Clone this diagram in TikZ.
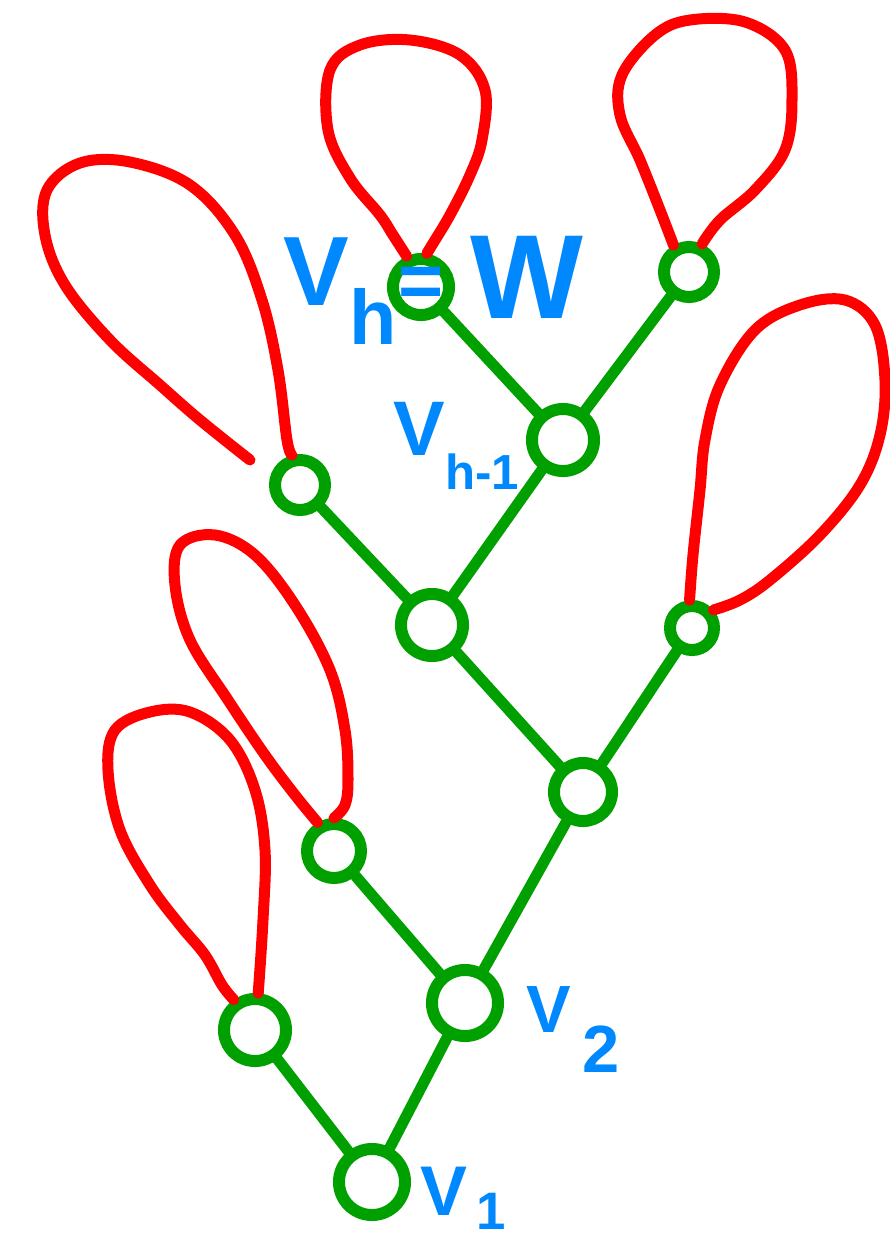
\documentclass[tikz,border=0pt]{standalone}
\usepackage{fontspec}
\setmainfont{Liberation Sans}
\usetikzlibrary{positioning}
\definecolor{treegreen}{RGB}{0,160,0}
\definecolor{loopred}{RGB}{255,0,0}
\definecolor{labblue}{RGB}{0,136,255}
\newcommand{\vsub}[3]{#1\raisebox{#3}{#2}}

\begin{document}
\begin{tikzpicture}[
        x=0.01cm, y=-0.01cm,
        vert/.style={circle, draw=treegreen, line width=0.12cm, inner sep=0pt, minimum size=#1},
        vert/.default=0.6cm,
        edge/.style={draw=treegreen, line width=0.11cm, line cap=round},
        selfloop/.style={draw=loopred, line width=0.11cm, line cap=round, line join=round},
        lab/.style={text=labblue, font=\bfseries, inner sep=0pt}
    ]
        \useasboundingbox (0,0) rectangle (890,1250);

        % Vertices
        \node[vert=0.66cm] (v1) at (372,1182) {};
        \node[vert=0.66cm] (v2) at (465,1003) {};
        \node[vert=0.62cm] (leafA) at (255,1030) {};
        \node[vert=0.54cm] (leafB) at (334,851) {};
        \node[vert=0.58cm] (midR) at (583,792) {};
        \node[vert=0.62cm] (midL) at (432,625) {};
        \node[vert=0.44cm] (leafD) at (692,628) {};
        \node[vert=0.50cm] (leafE) at (300,485) {};
        \node[vert=0.62cm] (vhm) at (563,440) {};
        \node[vert=0.56cm] (vh) at (421,287) {};
        \node[vert=0.50cm] (leafF) at (689,272) {};
        \coordinate (loopEnd) at (250,460);

        % Tree edges
        \draw[edge] (v1) -- (leafA);
        \draw[edge] (v1) -- (v2);
        \draw[edge] (v2) -- (leafB);
        \draw[edge] (v2) -- (midR);
        \draw[edge] (midR) -- (midL);
        \draw[edge] (midR) -- (leafD);
        \draw[edge] (midL) -- (leafE);
        \draw[edge] (midL) -- (vhm);
        \draw[edge] (vhm) -- (vh);
        \draw[edge] (vhm) -- (leafF);

        % Loops
        \draw[selfloop] plot[smooth, tension=0.6] coordinates {(leafA.125) (222,985) (205,955) (180,925) (150,885) (120,830) (108,770) (115,730) (150,712) (190,712) (230,740) (255,790) (265,850) (263,920) (leafA.85)};
        \draw[selfloop] plot[smooth, tension=0.6] coordinates {(leafB.120) (295,795) (265,755) (228,700) (190,640) (175,585) (180,545) (215,535) (255,555) (295,605) (330,670) (345,730) (348,780) (345,805) (leafB.90)};
        \draw[selfloop] plot[smooth, tension=0.6] coordinates {(loopEnd) (200,420) (160,385) (110,340) (65,285) (45,235) (47,190) (80,163) (130,162) (190,185) (235,235) (262,300) (278,370) (287,440) (leafE.105)};
        \draw[selfloop] plot[smooth, tension=0.6] coordinates {(vh.115) (393,235) (380,215) (350,178) (328,130) (330,70) (360,45) (410,40) (460,55) (485,90) (482,140) (470,175) (450,215) (432,245) (vh.80)};
        \draw[selfloop] plot[smooth, tension=0.6] coordinates {(leafF.120) (660,210) (640,160) (620,115) (622,75) (655,35) (690,20) (745,22) (785,50) (792,100) (785,150) (755,190) (720,220) (leafF.65)};
        \draw[selfloop] plot[smooth, tension=0.6] coordinates {(leafD.95) (693,555) (700,490) (705,440) (720,385) (755,330) (800,305) (845,300) (875,325) (885,380) (880,435) (860,485) (820,535) (770,580) (740,600) (leafD.40)};

        % Labels
        \node[lab, anchor=base west, font=\bfseries\fontsize{28}{30}\selectfont] (labVh) at (283,305) {\vsub{V}{\fontsize{22}{24}\selectfont h}{-0.4em}};
        \node[lab, font=\bfseries\fontsize{22}{24}\selectfont] (labEq) at (vh) {=};
        \node[lab, anchor=base west, font=\bfseries\fontsize{34}{36}\selectfont] (labW) at (470,318) {W};
        \node[lab, anchor=base west, font=\bfseries\fontsize{22}{24}\selectfont] (labVhm) at (393,455) {\vsub{V}{\fontsize{14}{16}\selectfont h-1}{-0.45em}};
        \node[lab, anchor=base west, font=\bfseries\fontsize{19}{21}\selectfont] (labV2) at (526,1032) {\vsub{V}{\,2}{-0.6em}};
        \node[lab, anchor=base west, font=\bfseries\fontsize{20}{22}\selectfont] (labV1) at (420,1215) {\vsub{V}{\fontsize{15}{17}\selectfont\,1}{-0.2em}};
    \end{tikzpicture}
\end{document}
